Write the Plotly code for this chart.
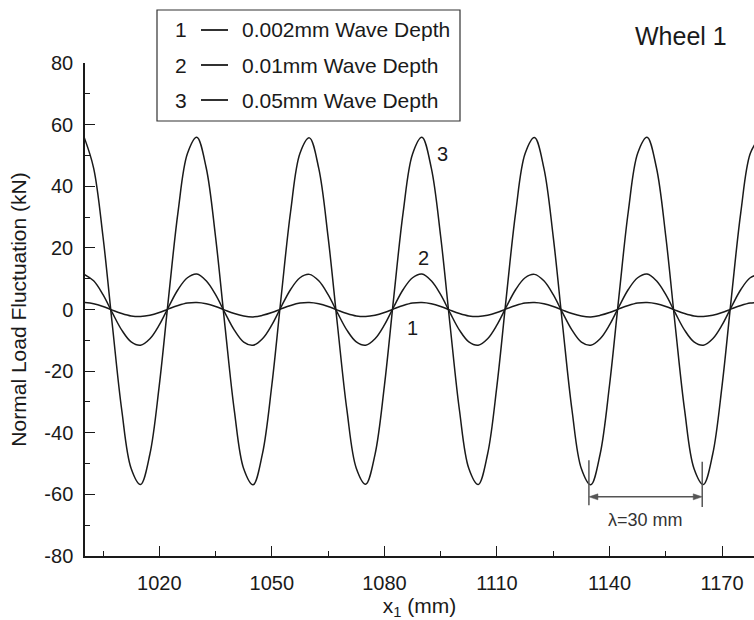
import plotly.graph_objects as go

# ---------------- data ----------------
x_mm = [1000, 1002.5, 1005, 1007.5, 1010, 1012.5, 1015, 1017.5, 1020, 1022.5, 1025, 1027.5,
        1030, 1032.5, 1035, 1037.5, 1040, 1042.5, 1045, 1047.5, 1050, 1052.5, 1055, 1057.5,
        1060, 1062.5, 1065, 1067.5, 1070, 1072.5, 1075, 1077.5, 1080, 1082.5, 1085, 1087.5,
        1090, 1092.5, 1095, 1097.5, 1100, 1102.5, 1105, 1107.5, 1110, 1112.5, 1115, 1117.5,
        1120, 1122.5, 1125, 1127.5, 1130, 1132.5, 1135, 1137.5, 1140, 1142.5, 1145, 1147.5,
        1150, 1152.5, 1155, 1157.5, 1160, 1162.5, 1165, 1167.5, 1170, 1172.5, 1175, 1177.5,
        1180]

load_002 = [2.3, 1.9, 1.0, -0.2, -1.3, -2.1, -2.3, -1.9, -1.0, 0.2, 1.3, 2.1,
            2.3, 1.9, 1.0, -0.2, -1.3, -2.1, -2.4, -1.9, -1.0, 0.2, 1.3, 2.1,
            2.3, 1.9, 1.0, -0.2, -1.3, -2.1, -2.3, -1.9, -1.0, 0.2, 1.3, 2.1,
            2.3, 1.9, 1.0, -0.2, -1.3, -2.1, -2.3, -1.9, -1.0, 0.2, 1.3, 2.1,
            2.3, 1.9, 1.0, -0.2, -1.3, -2.1, -2.4, -1.9, -1.0, 0.2, 1.3, 2.1,
            2.3, 1.9, 1.0, -0.2, -1.3, -2.1, -2.3, -1.9, -1.0, 0.2, 1.3, 2.1,
            2.3]

load_01 = [11.4, 9.3, 4.8, -1.1, -6.7, -10.5, -11.6, -9.5, -5.0, 0.9, 6.5, 10.3,
           11.5, 9.3, 4.8, -1.1, -6.7, -10.6, -11.6, -9.5, -5.0, 0.9, 6.5, 10.3,
           11.4, 9.3, 4.8, -1.1, -6.7, -10.5, -11.6, -9.5, -5.0, 0.9, 6.5, 10.3,
           11.5, 9.3, 4.8, -1.1, -6.7, -10.5, -11.6, -9.5, -5.0, 0.9, 6.5, 10.3,
           11.4, 9.3, 4.8, -1.1, -6.7, -10.6, -11.6, -9.5, -5.0, 0.9, 6.5, 10.3,
           11.5, 9.3, 4.8, -1.1, -6.7, -10.5, -11.6, -9.5, -5.0, 0.9, 6.5, 10.3,
           11.4]

load_05 = [55.8, 45.9, 23.6, -5.2, -32.7, -51.6, -56.8, -46.9, -24.6, 4.2, 31.7, 50.6,
           55.9, 46.0, 23.5, -5.3, -32.8, -51.7, -56.9, -46.8, -24.5, 4.3, 31.8, 50.7,
           55.7, 45.8, 23.4, -5.2, -32.6, -51.5, -56.7, -47.0, -24.7, 4.1, 31.6, 50.5,
           55.9, 45.9, 23.6, -5.1, -32.7, -51.6, -56.8, -46.9, -24.6, 4.2, 31.7, 50.6,
           55.8, 45.9, 23.5, -5.2, -32.7, -51.7, -56.9, -46.9, -24.5, 4.2, 31.8, 50.7,
           55.9, 46.0, 23.6, -5.2, -32.6, -51.6, -56.8, -46.9, -24.6, 4.2, 31.7, 50.6,
           55.8]

series_names = ["0.002mm Wave Depth", "0.01mm Wave Depth", "0.05mm Wave Depth"]
series_ids = ["1", "2", "3"]
x_ticks = [1020, 1050, 1080, 1110, 1140, 1170]
y_ticks = [-80, -60, -40, -20, 0, 20, 40, 60, 80]

# wavelength marker (troughs)
lam_x = [1134.5, 1164.7]

# ---------------- layout helpers ----------------
W, H = 754, 620
L, R, T, B = 85, 754, 63, 556
X0, X1 = 1000.2, 1178.5
Y0, Y1 = -80, 80


def px_x(p):
    return (p - L) / (R - L)


def px_y(p):
    return (B - p) / (B - T)


MM_PER_PX = (X1 - X0) / (R - L)
KN_PER_PX = (Y1 - Y0) / (B - T)

FONT = "Liberation Sans, Arial, Helvetica, sans-serif"
INK = "#1a1a1a"

fig = go.Figure()
for ys in (load_002, load_01, load_05):
    fig.add_trace(go.Scatter(x=x_mm, y=ys, mode="lines",
                             line=dict(color=INK, width=1.5, shape="spline", smoothing=1.0),
                             showlegend=False, hoverinfo="skip"))

axis_common = dict(showline=True, linecolor=INK, linewidth=1.5, ticks="inside",
                   tickcolor=INK, tickwidth=1.3, ticklen=10, showgrid=False, zeroline=False,
                   tickfont=dict(family=FONT, size=20, color=INK))

fig.update_xaxes(range=[X0, X1], tickmode="array", tickvals=x_ticks,
                 ticktext=[str(v) for v in x_ticks],
                 minor=dict(dtick=15, tick0=1005, ticks="inside", ticklen=5, tickcolor=INK, tickwidth=1.3),
                 ticklabelstandoff=8,
                 title=dict(text="x<sub>1</sub> (mm)", font=dict(family=FONT, size=21, color=INK), standoff=5),
                 **axis_common)
fig.update_yaxes(range=[Y0, Y1], tickmode="array", tickvals=y_ticks,
                 ticktext=[str(v) for v in y_ticks],
                 minor=dict(dtick=10, ticks="inside", ticklen=5, tickcolor=INK, tickwidth=1.3),
                 ticklabelstandoff=6,
                 title=dict(text="Normal Load Fluctuation (kN)", font=dict(family=FONT, size=21, color=INK), standoff=12),
                 **axis_common)

shapes = []
annotations = []

# legend box
shapes.append(dict(type="rect", xref="paper", yref="paper",
                   x0=px_x(157), x1=px_x(460), y0=px_y(121), y1=px_y(10),
                   line=dict(color="#333", width=1.2), fillcolor="white"))
row_y = [30, 65, 100]
for sid, name, ry in zip(series_ids, series_names, row_y):
    annotations.append(dict(xref="paper", yref="paper", x=px_x(181), y=px_y(ry), text=sid,
                            showarrow=False, xanchor="center", yanchor="middle",
                            font=dict(family=FONT, size=21, color=INK)))
    shapes.append(dict(type="line", xref="paper", yref="paper",
                       x0=px_x(201), x1=px_x(228), y0=px_y(ry), y1=px_y(ry),
                       line=dict(color=INK, width=1.8)))
    annotations.append(dict(xref="paper", yref="paper", x=px_x(240), y=px_y(ry), text=name,
                            showarrow=False, xanchor="left", yanchor="middle",
                            font=dict(family=FONT, size=21, color=INK)))

# curve labels
for txt, lx, ly in (("3", 1095.6, 50.5), ("2", 1090.3, 16.6), ("1", 1087.4, -6.1)):
    annotations.append(dict(x=lx, y=ly, text=txt, showarrow=False,
                            font=dict(family=FONT, size=20, color=INK)))

# Wheel 1
annotations.append(dict(xref="paper", yref="paper", x=px_x(681), y=px_y(36), text="Wheel 1",
                        showarrow=False, xanchor="center", yanchor="middle",
                        font=dict(family=FONT, size=25, color=INK)))

# wavelength marker: two vertical bars, a double-headed arrow, and the label
GREY = "#555555"
arrow_y = -60.8
for lx, (ya, yb) in zip(lam_x, ((-48.9, -63.5), (-49.4, -64.1))):
    shapes.append(dict(type="line", x0=lx, x1=lx, y0=ya, y1=yb,
                       line=dict(color=GREY, width=1.5)))
head_len = 9 * MM_PER_PX
head_half = 3 * KN_PER_PX
shapes.append(dict(type="line", x0=lam_x[0] + head_len * 0.8, x1=lam_x[1] - head_len * 0.8,
                   y0=arrow_y, y1=arrow_y, line=dict(color=GREY, width=1.5)))
for tip, direction in ((lam_x[0], 1), (lam_x[1], -1)):
    base = tip + direction * head_len
    shapes.append(dict(type="path",
                       path=f"M {tip} {arrow_y} L {base} {arrow_y + head_half} "
                            f"L {base} {arrow_y - head_half} Z",
                       fillcolor=GREY, line=dict(color=GREY, width=0.5)))
mid = (lam_x[0] + lam_x[1]) / 2
annotations.append(dict(x=mid, y=-68.3, text="λ=30 mm", showarrow=False,
                        font=dict(family=FONT, size=18, color="#333")))

fig.update_layout(width=W, height=H, margin=dict(l=L, r=W - R, t=T, b=H - B),
                  plot_bgcolor="white", paper_bgcolor="white",
                  shapes=shapes, annotations=annotations)

fig.write_html("out.html")
